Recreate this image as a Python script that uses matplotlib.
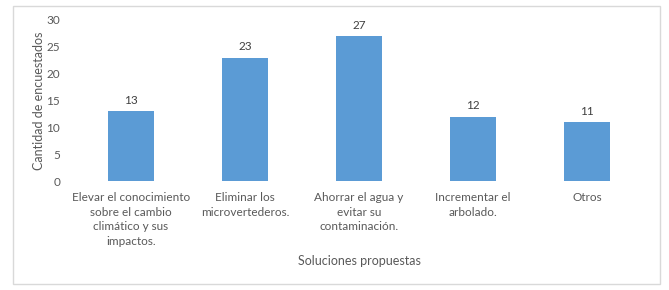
import matplotlib.pyplot as plt
from matplotlib.patches import Rectangle

categorias = ['Elevar el conocimiento\nsobre el cambio\nclimático y sus\nimpactos.',
              'Eliminar los\nmicrovertederos.',
              'Ahorrar el agua y\nevitar su\ncontaminación.',
              'Incrementar el\narbolado.',
              'Otros']
valores = [13, 23, 27, 12, 11]

gris = '#595959'
plt.rcParams['font.family'] = ['Lato', 'DejaVu Sans']

fig = plt.figure(figsize=(6.69, 2.90), dpi=100)
fig.patches.append(Rectangle((13 / 669, 1 - 284 / 290), 647 / 669, 278 / 290,
                             transform=fig.transFigure, fill=False,
                             edgecolor='#d9d9d9', linewidth=1))
ax = fig.add_axes([74 / 669, 1 - 181 / 290, 570 / 669, 161 / 290])

x = range(len(categorias))
barras = ax.bar(x, valores, width=0.4, color='#5b9bd5')
for b, v in zip(barras, valores):
    ax.text(b.get_x() + b.get_width() / 2, v + 1.0, str(v), ha='center',
            va='bottom', fontsize=8.5, color='#404040')

ax.set_xlim(-0.5, len(categorias) - 0.5)
ax.set_ylim(0, 30)
ax.set_yticks(range(0, 31, 5))
ax.set_xticks(list(x))
ax.set_xticklabels(categorias, fontsize=8.5, color=gris, linespacing=1.4, va='top')
ax.tick_params(axis='both', length=0, labelsize=8.5, colors=gris)
ax.tick_params(axis='x', pad=8)
ax.tick_params(axis='y', pad=10)
for s in ax.spines.values():
    s.set_visible(False)

ax.set_ylabel('Cantidad de encuestados', fontsize=9, color=gris, labelpad=1)
fig.text(359 / 669, 1 - 261 / 290, 'Soluciones propuestas', ha='center',
         va='center', fontsize=9, color=gris)

fig.savefig('out.png', dpi=100)
